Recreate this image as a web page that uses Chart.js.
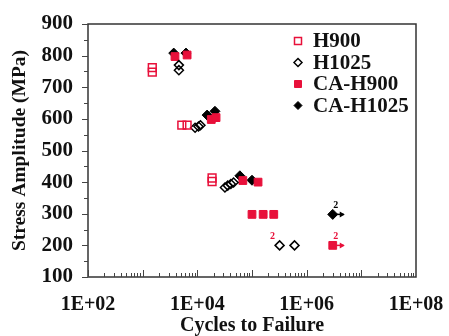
<!DOCTYPE html>
<html>
<head>
<meta charset="utf-8">
<script src="https://cdn.jsdelivr.net/npm/chart.js@4.4.0/dist/chart.umd.min.js"></script>
<style>
  html, body { margin: 0; padding: 0; background: #fff; }
  #wrap { width: 449px; height: 336px; }
</style>
</head>
<body>
<div id="wrap"><canvas id="snChart" width="449" height="336"></canvas></div>
<script>
// Cycles to failure (x) and stress amplitude in MPa (y) for each series
const h900X = [1500, 1500, 5200, 6500, 18600, 18600];
const h900Y = [762, 748, 580, 580, 413, 402];

const h1025X = [4600, 4600, 9100, 10500, 11400, 32000, 36000, 41000, 46000, 320000, 600000];
const h1025Y = [770, 754, 572, 576, 580, 383, 389, 394, 399, 200, 200];

const caH900X = [3900, 6500, 18000, 22000, 68000, 129000, 100000, 160000, 250000, 3000000];
const caH900Y = [797, 802, 598, 604, 405, 400, 298, 298, 298, 200];

const caH1025X = [3700, 6200, 15100, 21000, 60000, 100000, 3000000];
const caH1025Y = [808, 808, 612, 624, 420, 406, 298];

// run-outs (arrow + count label)
const runoutSeries = ['CA-H1025', 'CA-H900'];
const runoutX = [3000000, 3000000];
const runoutY = [298, 200];
const noteX = [3000000, 3000000, 320000];
const noteY = [298, 200, 200];
const noteText = ['2', '2', '2'];
const noteColor = ['#000', '#e8103a', '#e8103a'];

const xTickValues = [1e2, 1e4, 1e6, 1e8];
const yMin = 100, yMax = 900, yStep = 100;

const RED = '#e8103a';
const FONT = 'Liberation Serif';

function pts(xs, ys) {
    return xs.map((x, i) => ({ x: x, y: ys[i] }));
}

const datasets = [
    { label: 'H900', data: pts(h900X, h900Y), pointStyle: 'rect', pointRadius: 5.5,
      borderColor: RED, backgroundColor: 'rgba(255,255,255,0)', pointBorderWidth: 1.5 },
    { label: 'H1025', data: pts(h1025X, h1025Y), pointStyle: 'rectRot', pointRadius: 4.5,
      borderColor: '#000', backgroundColor: 'rgba(255,255,255,0)', pointBorderWidth: 1.5 },
    { label: 'CA-H900', data: pts(caH900X, caH900Y), pointStyle: 'rect', pointRadius: 5.5,
      borderColor: RED, backgroundColor: RED, pointBorderWidth: 1 },
    { label: 'CA-H1025', data: pts(caH1025X, caH1025Y), pointStyle: 'rectRot', pointRadius: 5,
      borderColor: '#000', backgroundColor: '#000', pointBorderWidth: 1 }
];

// frame, inward/outward tick marks, run-out arrows, notes and legend
const decorPlugin = {
    id: 'decor',
    afterDatasetsDraw(chart) {
        const ctx = chart.ctx;
        const a = chart.chartArea;
        const xs = chart.scales.x, ys = chart.scales.y;
        ctx.save();

        ctx.strokeStyle = '#333';
        ctx.lineWidth = 1.5;
        ctx.strokeRect(a.left, a.top, a.right - a.left, a.bottom - a.top);

        // y ticks (outside)
        ctx.lineWidth = 1;
        ctx.strokeStyle = '#444';
        for (let v = yMin; v <= yMax; v += yStep / 2) {
            const py = Math.round(ys.getPixelForValue(v)) + 0.5;
            const len = (v % yStep === 0) ? 6 : 4;
            ctx.beginPath();
            ctx.moveTo(a.left - len, py);
            ctx.lineTo(a.left, py);
            ctx.stroke();
        }
        // x ticks (inside, log minors)
        for (let e = 2; e < 8; e++) {
            for (let m = 1; m < 10; m++) {
                const v = m * Math.pow(10, e);
                const px = Math.round(xs.getPixelForValue(v)) + 0.5;
                const len = m === 1 ? 7 : 4;
                ctx.beginPath();
                ctx.moveTo(px, a.bottom);
                ctx.lineTo(px, a.bottom - len);
                ctx.stroke();
            }
        }

        // run-out arrows
        runoutX.forEach((x, i) => {
            const px = xs.getPixelForValue(x), py = ys.getPixelForValue(runoutY[i]);
            const col = runoutSeries[i] === 'CA-H900' ? RED : '#000';
            ctx.strokeStyle = col;
            ctx.fillStyle = col;
            ctx.lineWidth = 1.5;
            ctx.beginPath();
            ctx.moveTo(px, py);
            ctx.lineTo(px + 11, py);
            ctx.stroke();
            ctx.beginPath();
            ctx.moveTo(px + 12, py);
            ctx.lineTo(px + 7, py - 3);
            ctx.lineTo(px + 7, py + 3);
            ctx.closePath();
            ctx.fill();
        });

        // count notes
        ctx.font = 'bold 10px ' + FONT;
        ctx.textAlign = 'center';
        ctx.textBaseline = 'alphabetic';
        noteX.forEach((x, i) => {
            const px = xs.getPixelForValue(x), py = ys.getPixelForValue(noteY[i]);
            const dx = i === 2 ? -7 : 3;
            ctx.fillStyle = noteColor[i];
            ctx.fillText(noteText[i], px + dx, py - 6);
        });

        // legend inside plot, top right
        const lx = a.right - 118, ly0 = a.top + 17, step = 21.5;
        ctx.font = 'bold 21px ' + FONT;
        ctx.textAlign = 'left';
        ctx.textBaseline = 'middle';
        chart.data.datasets.forEach((ds, i) => {
            const ly = ly0 + i * step;
            ctx.lineWidth = ds.pointBorderWidth;
            ctx.strokeStyle = ds.borderColor;
            ctx.fillStyle = ds.backgroundColor;
            ctx.beginPath();
            if (ds.pointStyle === 'rect') {
                ctx.rect(lx - 3.5, ly - 3.5, 7, 7);
            } else {
                ctx.moveTo(lx, ly - 4);
                ctx.lineTo(lx + 4, ly);
                ctx.lineTo(lx, ly + 4);
                ctx.lineTo(lx - 4, ly);
                ctx.closePath();
            }
            ctx.fill();
            ctx.stroke();
            ctx.fillStyle = '#111';
            ctx.fillText(ds.label, lx + 15, ly + 1);
        });

        ctx.restore();
    }
};

new Chart(document.getElementById('snChart'), {
    type: 'scatter',
    data: { datasets: datasets },
    options: {
        responsive: false,
        animation: false,
        events: [],
        layout: { padding: { top: 24, right: 33, left: 0, bottom: 0 } },
        plugins: {
            legend: { display: false },
            tooltip: { enabled: false }
        },
        scales: {
            x: {
                type: 'logarithmic',
                min: 1e2,
                max: 1e8,
                grid: { display: false, drawTicks: false },
                border: { display: false },
                afterBuildTicks: function (scale) {
                    scale.ticks = xTickValues.map(v => ({ value: v }));
                },
                afterFit: function (scale) {
                    scale.height = 59;
                    scale.paddingLeft = 0;
                    scale.paddingRight = 0;
                },
                ticks: {
                    autoSkip: false,
                    maxRotation: 0,
                    padding: 16,
                    color: '#111',
                    font: { family: FONT, weight: 'bold', size: 20 },
                    callback: function (value) {
                        const e = Math.round(Math.log10(value));
                        return '1E+' + String(e).padStart(2, '0');
                    }
                },
                title: {
                    display: true,
                    text: 'Cycles to Failure',
                    color: '#111',
                    padding: { top: 0, bottom: 0 },
                    font: { family: FONT, weight: 'bold', size: 20, lineHeight: 1.0 }
                }
            },
            y: {
                min: yMin,
                max: yMax,
                grid: { display: false, drawTicks: false },
                border: { display: false },
                afterFit: function (scale) {
                    scale.width = 88;
                    scale.paddingTop = 0;
                    scale.paddingBottom = 0;
                },
                ticks: {
                    stepSize: yStep,
                    padding: 15,
                    color: '#111',
                    font: { family: FONT, weight: 'bold', size: 21 }
                },
                title: {
                    display: true,
                    text: 'Stress Amplitude (MPa)',
                    color: '#111',
                    padding: { top: 8, bottom: 0 },
                    font: { family: FONT, weight: 'bold', size: 19.5 }
                }
            }
        }
    },
    plugins: [decorPlugin]
});
</script>
</body>
</html>
